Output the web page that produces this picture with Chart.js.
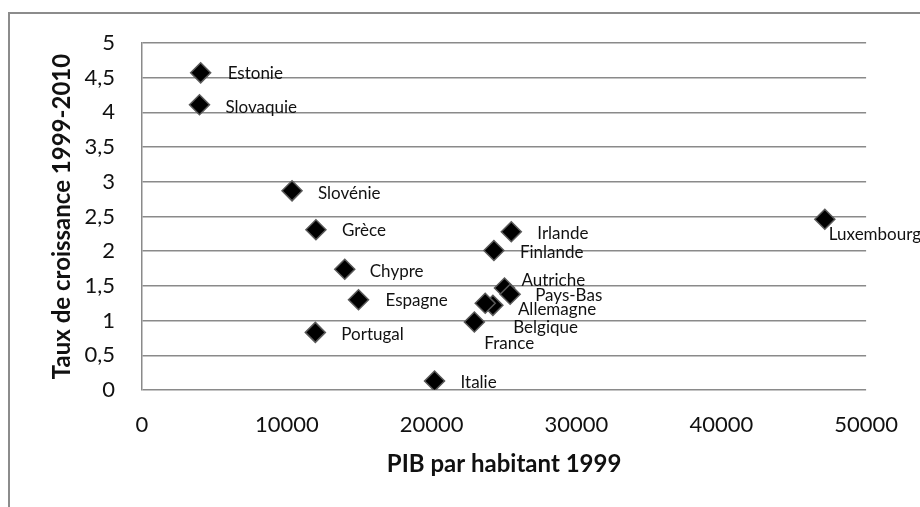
<!DOCTYPE html>
<html>
<head>
<meta charset="utf-8">
<script src="https://cdn.jsdelivr.net/npm/chart.js@4"></script>
<style>
  html, body { margin: 0; padding: 0; background: #fff; }
  #wrap { width: 920px; height: 507px; }
</style>
</head>
<body>
<div id="wrap"><canvas id="chart" width="920" height="507"></canvas></div>
<script>
// pays de la zone euro
const countries = ["Estonie", "Slovaquie", "Slovénie", "Grèce", "Chypre", "Espagne", "Portugal", "Italie",
  "Irlande", "Finlande", "Autriche", "Pays-Bas", "Allemagne", "Belgique", "France", "Luxembourg"];
// PIB par habitant 1999
const pib1999 = [4050, 3970, 10360, 12010, 14000, 14950, 11970, 20200,
  25500, 24300, 25030, 25420, 24230, 23700, 22950, 47150];
// taux de croissance 1999-2010
const growth = [4.57, 4.11, 2.87, 2.31, 1.74, 1.30, 0.83, 0.13,
  2.28, 2.01, 1.47, 1.38, 1.22, 1.25, 0.98, 2.46];

const xTicks = [0, 10000, 20000, 30000, 40000, 50000];
const yTicks = [0, 0.5, 1, 1.5, 2, 2.5, 3, 3.5, 4, 4.5, 5];

// where each label sits relative to its point (px)
const labelShift = {
  "Estonie": [27, 1], "Slovaquie": [26, 3], "Slovénie": [26, 3], "Grèce": [26, 1],
  "Chypre": [25, 2], "Espagne": [27, 1], "Portugal": [26, 2], "Italie": [26, 2],
  "Irlande": [26, 2], "Finlande": [26, 2], "Autriche": [17, -7], "Pays-Bas": [25, 1],
  "Allemagne": [25, 4], "Belgique": [28, 24], "France": [10, 22], "Luxembourg": [4, 15]
};

const FONT = "Lato, 'Open Sans', sans-serif";
const GRID = "#8a8a8a";

const frame = {
  id: "frame",
  beforeDraw(chart) {
    const ctx = chart.ctx;
    ctx.save();
    ctx.fillStyle = "#fff";
    ctx.fillRect(0, 0, chart.width, chart.height);
    ctx.strokeStyle = "#8c8c8c";
    ctx.lineWidth = 2;
    ctx.strokeRect(9, 13, 1200, 1200);
    ctx.restore();
  }
};

const pointLabels = {
  id: "pointLabels",
  afterDatasetsDraw(chart) {
    const ctx = chart.ctx;
    const meta = chart.getDatasetMeta(0);
    ctx.save();
    ctx.font = "17px " + FONT;
    ctx.fillStyle = "#111";
    ctx.textBaseline = "middle";
    ctx.textAlign = "left";
    meta.data.forEach((pt, i) => {
      const name = countries[i];
      const s = labelShift[name] || [20, 0];
      ctx.fillText(name, pt.x + s[0], pt.y + s[1]);
    });
    ctx.restore();
  }
};

new Chart(document.getElementById("chart"), {
  type: "scatter",
  data: {
    datasets: [{
      label: "Taux de croissance",
      data: pib1999.map((v, i) => ({ x: v, y: growth[i] })),
      pointStyle: "rectRot",
      pointRadius: 10,
      pointHoverRadius: 10,
      backgroundColor: "#000",
      borderColor: "#5a5a5a",
      borderWidth: 1.5
    }]
  },
  options: {
    responsive: false,
    animation: false,
    layout: { padding: { left: 0, top: 43, right: 51, bottom: 0 } },
    plugins: { legend: { display: false }, tooltip: { enabled: false } },
    scales: {
      x: {
        type: "linear",
        min: 0, max: 50000,
        afterBuildTicks: (s) => { s.ticks = xTicks.map(v => ({ value: v })); },
        afterFit: (s) => { s.height = 117; },
        grid: { display: false, drawTicks: false },
        border: { display: false },
        ticks: {
          padding: 22, color: "#111", font: { family: FONT, size: 22 },
          callback: (v) => String(v)
        },
        title: {
          display: true, text: "PIB par habitant 1999", color: "#111",
          font: { family: FONT, size: 24, weight: "bold", lineHeight: 1.2 },
          padding: { top: 0, bottom: 28 }
        }
      },
      y: {
        type: "linear",
        min: 0, max: 5,
        afterBuildTicks: (s) => { s.ticks = yTicks.map(v => ({ value: v })); },
        afterFit: (s) => { s.width = 142; },
        grid: { color: GRID, lineWidth: 1.5, drawTicks: false },
        border: { display: true, color: GRID, width: 1.5 },
        ticks: {
          padding: 27, color: "#111", font: { family: FONT, size: 22 },
          callback: (v) => String(v).replace(".", ",")
        },
        title: {
          display: true, text: "Taux de croissance 1999-2010", color: "#111",
          font: { family: FONT, size: 24, weight: "bold", lineHeight: 1.2 },
          padding: { top: 48, bottom: 0 }
        }
      }
    }
  },
  plugins: [frame, pointLabels]
});
</script>
</body>
</html>
